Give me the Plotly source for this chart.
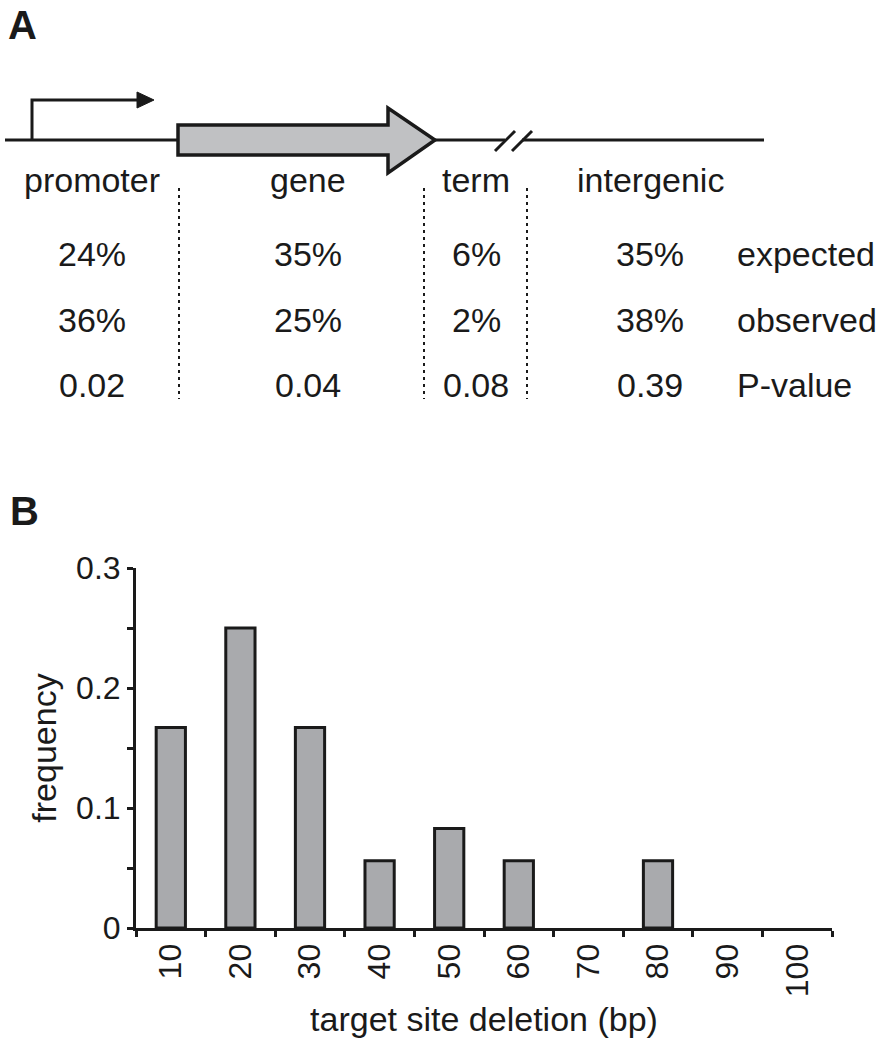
import plotly.graph_objects as go

W, H = 887, 1050
FONT = "Liberation Sans, Arial, Helvetica, sans-serif"

# ---- Panel A data ----
regions = ["promoter", "gene", "term", "intergenic"]
expected_pct = [24, 35, 6, 35]
observed_pct = [36, 25, 2, 38]
p_values = [0.02, 0.04, 0.08, 0.39]
row_labels = ["expected", "observed", "P-value"]

# ---- Panel B data ----
deletion_bp = ["10", "20", "30", "40", "50", "60", "70", "80", "90", "100"]
frequency = [0.167, 0.25, 0.167, 0.056, 0.083, 0.056, 0.0, 0.056, 0.0, 0.0]
y_tick_vals = [0, 0.05, 0.1, 0.15, 0.2, 0.25, 0.3]
y_tick_text = ["0", "", "0.1", "", "0.2", "", "0.3"]


def px(x):
    return x / W


def py(y):
    return 1 - y / H


BLACK = "#1a1a1a"

fig = go.Figure()
fig.add_trace(go.Bar(
    x=deletion_bp, y=frequency,
    marker=dict(color="#a9aaad",
                line=dict(color=BLACK, width=[3 if v > 0 else 0 for v in frequency])),
    showlegend=False, hoverinfo="x+y",
))

shapes = []
annotations = []

# main DNA line with break
shapes.append(dict(type="line", xref="paper", yref="paper",
                   x0=px(5), y0=py(140), x1=px(505), y1=py(140),
                   line=dict(color=BLACK, width=3)))
shapes.append(dict(type="line", xref="paper", yref="paper",
                   x0=px(522), y0=py(140), x1=px(764), y1=py(140),
                   line=dict(color=BLACK, width=3)))
for sx in (495, 512):
    shapes.append(dict(type="line", xref="paper", yref="paper",
                       x0=px(sx), y0=py(151), x1=px(sx + 20), y1=py(131),
                       line=dict(color=BLACK, width=3)))

# promoter bent arrow
shapes.append(dict(type="path", xref="paper", yref="paper",
                   path=f"M {px(32)} {py(140)} L {px(32)} {py(100)} L {px(140)} {py(100)}",
                   line=dict(color=BLACK, width=3)))
shapes.append(dict(type="path", xref="paper", yref="paper",
                   path=f"M {px(137)} {py(92)} L {px(154)} {py(100)} L {px(137)} {py(108)} Z",
                   fillcolor=BLACK, line=dict(color=BLACK, width=1)))

# gene block arrow
gene_path = (f"M {px(178)} {py(125)} L {px(388)} {py(125)} L {px(388)} {py(108)} "
             f"L {px(435)} {py(140)} L {px(388)} {py(173)} L {px(388)} {py(155)} "
             f"L {px(178)} {py(155)} Z")
shapes.append(dict(type="path", xref="paper", yref="paper", path=gene_path,
                   fillcolor="#c0c1c3", line=dict(color=BLACK, width=3.5)))

# dotted separators
for dx in (179, 424, 527):
    shapes.append(dict(type="line", xref="paper", yref="paper",
                       x0=px(dx), y0=py(188), x1=px(dx), y1=py(399),
                       line=dict(color=BLACK, width=2, dash="3px,4px")))

col_x = [92, 308, 476, 650]
label_y = 180
row_y = [254, 320, 385]

for name, cx in zip(regions, col_x):
    annotations.append(dict(text=name, x=px(cx), y=py(label_y), xref="paper", yref="paper",
                            showarrow=False, xanchor="center", yanchor="middle",
                            font=dict(size=34, color=BLACK, family=FONT)))

rows = [[f"{v}%" for v in expected_pct],
        [f"{v}%" for v in observed_pct],
        [f"{v:.2f}" for v in p_values]]
for ry, vals, lab in zip(row_y, rows, row_labels):
    for cx, v in zip(col_x, vals):
        annotations.append(dict(text=v, x=px(cx), y=py(ry), xref="paper", yref="paper",
                                showarrow=False, xanchor="center", yanchor="middle",
                                font=dict(size=34, color=BLACK, family=FONT)))
    annotations.append(dict(text=lab, x=px(735), y=py(ry), xref="paper", yref="paper",
                            showarrow=False, xanchor="left", yanchor="middle",
                            font=dict(size=34, color=BLACK, family=FONT)))

# panel letters
for letter, lx, ly in (("A", 22, 25), ("B", 24, 511)):
    annotations.append(dict(text=f"<b>{letter}</b>", x=px(lx), y=py(ly), xref="paper", yref="paper",
                            showarrow=False, xanchor="center", yanchor="middle",
                            font=dict(size=40, color=BLACK, family=FONT)))

fig.update_layout(
    width=W, height=H,
    margin=dict(l=0, r=0, t=0, b=0, pad=0),
    paper_bgcolor="white", plot_bgcolor="white",
    font=dict(family=FONT, color=BLACK),
    bargap=0.58,
    hovermode=False,
    shapes=shapes,
    annotations=annotations,
    xaxis=dict(
        domain=[px(136), px(832)],
        type="category",
        automargin=False,
        showline=True, linecolor=BLACK, linewidth=3,
        ticks="outside", ticklen=6, tickwidth=3, tickcolor=BLACK,
        tickson="boundaries",
        tickangle=-90,
        tickfont=dict(size=32, color=BLACK, family=FONT),
        showgrid=False, zeroline=False,
        title=dict(text="target site deletion (bp)", font=dict(size=34, color=BLACK, family=FONT),
                   standoff=12),
    ),
    yaxis=dict(
        domain=[py(928), py(568)],
        range=[0, 0.3],
        automargin=False,
        showline=True, linecolor=BLACK, linewidth=3,
        ticks="outside", ticklen=6, tickwidth=3, tickcolor=BLACK,
        tickvals=y_tick_vals, ticktext=y_tick_text,
        tickfont=dict(size=32, color=BLACK, family=FONT),
        showgrid=False, zeroline=False,
        title=dict(text="frequency", font=dict(size=34, color=BLACK, family=FONT), standoff=10),
    ),
)

# remove the browser's default 8px body margin so the figure fills the window exactly
fig.write_html("out.html", config={"displayModeBar": False},
               post_script="document.body.style.margin='0px';")
